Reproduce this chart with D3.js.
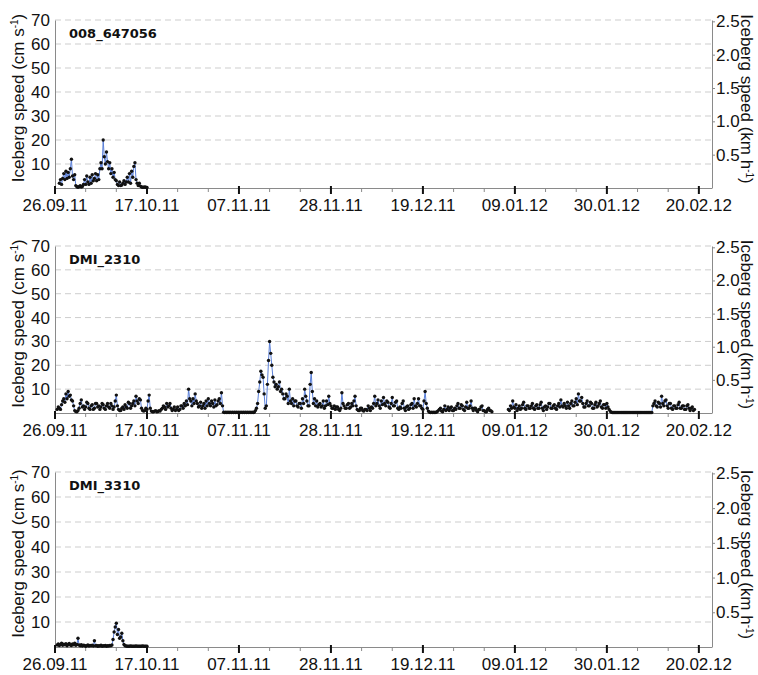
<!DOCTYPE html>
<html>
<head>
<meta charset="utf-8">
<script src="https://cdn.jsdelivr.net/npm/d3@7"></script>
<style>
  body { margin: 0; background: #fff; }
  svg { display: block; }
</style>
</head>
<body>
<svg id="chart" width="758" height="675"></svg>
<script>
// ---- data -------------------------------------------------------------
const buoyNames = ["008_647056", "DMI_2310", "DMI_3310"];
const dateLabels = ["26.09.11", "17.10.11", "07.11.11", "28.11.11", "19.12.11", "09.01.12", "30.01.12", "20.02.12"];
const axisStart = "26.09.11";
const axisEnd = "23.02.12";
const speedTicks = [10, 20, 30, 40, 50, 60, 70];      // cm s-1
const kmhTicks = [0.5, 1.0, 1.5, 2.0, 2.5];           // km h-1

// 008_647056: 6-hourly speeds (cm s-1) from 27.09.11 00 UTC
const speed008Start = "27.09.11 00";
const speed008Step = 6;
const speed008 = [2, 3.5, 1.5, 4, 6, 3.5, 7, 4, 6.5, 4.5, 8, 12, 5, 3.5, 5.5, 1, 0.5, 0.3, 0.5, 1,
  0.4, 0.6, 1.5, 3.5, 1.5, 5, 2.5, 1.5, 4.5, 2, 5.5, 3, 4, 6, 3, 5.5, 3.5, 8, 10.5, 8,
  20, 13, 10, 15, 11, 8, 10.5, 6, 8, 4.5, 6.5, 3.5, 3, 1.5, 1, 2.5, 1, 1.2, 2, 3,
  1.5, 2.5, 4.5, 2.5, 6, 2, 7, 4.5, 9, 10.5, 3.5, 2, 1, 2, 0.8, 0.4, 0.3, 0.3, 0.4, 0.3, 0.2];

// DMI_2310: 6-hourly speeds (cm s-1) from 26.09.11 12 UTC; null = no fix
const speed2310Start = "26.09.11 12";
const speed2310Step = 6;
const speed2310 = [
  1.5, 2.5, 2, 1.5, 3.5, 5, 6, 4.5, 8, 6, 9, 7, 7.5, 5.5, 5, 3, 1, 0.6, 0.5, 1,
  2, 4, 5.5, 2.5, 3, 1.5, 2.5, 4.5, 4, 2, 1.5, 3, 3.5, 1.5, 2, 4, 4, 2.5, 3, 1.5,
  2.5, 4, 3.5, 2, 1.5, 3, 4, 2.5, 2, 4, 3, 1.5, 2.5, 5, 7.5, 3, 1.5, 1, 1, 2,
  2.5, 1.5, 3.5, 2.5, 2, 4.5, 4, 2, 3, 4, 5, 3, 7, 5, 4, 6, 5.5, 2, 1, 0.8,
  1, 2, 1.5, 5, 7.5, 2, 0.8, 0.5, 0.5, 0.8, 1, 0.5, 0.6, 1, 0.8, 1.5, 2, 3, 2.5, 1.5,
  4, 2.5, 3, 4, 2, 1, 1.5, 2.5, 1, 1.5, 2.5, 1, 1.5, 3, 3, 2, 4, 3, 5, 3.5,
  10, 6, 5, 3, 6, 4, 8, 5, 4, 2.5, 3, 4.5, 2, 3, 4, 2, 5, 3, 6, 4,
  3, 5, 4, 2.5, 5.5, 3, 3.5, 5, 6, 4, 8.5, 3, 0.3, 0.2, 0.3, 0.2, 0.3, 0.2, 0.3, 0.2,
  0.3, 0.2, 0.3, 0.2, 0.3, 0.2, 0.3, 0.2, 0.3, 0.2, 0.3, 0.2, 0.3, 0.2, 0.3, 0.2, 0.3, 0.2, 0.3, 0.2,
  0.3, 1, 2, 4, 9, 13, 17.5, 16, 15, 8, 2, 3, 12, 22, 30, 25, 20, 15, 13, 11,
  12, 10, 11, 13, 9, 10, 8, 6, 6, 8, 7, 4, 10, 5, 4, 6, 3, 5, 5, 3,
  2.5, 4, 4, 2, 6, 4, 10, 7, 5, 3, 3, 12, 17, 9, 4, 6, 3, 5, 2.5, 3.5,
  4, 2.5, 3, 5, 2, 3, 5, 3.5, 7, 4, 3, 2, 2, 3, 1.5, 2.5, 2.5, 1.5, 1, 2,
  8.5, 4, 3, 2, 2, 3.5, 4, 2, 2.5, 4, 3, 5, 7, 3, 1.5, 1, 1, 2, 2, 1,
  0.8, 1.5, 1.5, 1, 3, 2, 1, 2.5, 2, 4, 7, 3, 4, 5.5, 3, 2, 5, 3.5, 6.5, 4,
  3, 5, 4.5, 2.5, 2, 4, 6.5, 3, 3, 4.5, 5, 2, 1.5, 2.5, 2, 4, 5, 2, 1, 2.5,
  3, 1.5, 2, 3.5, 4, 2, 6, 3, 2.5, 4, 6, 3, 3, 2, 1.5, 5, 9, 4, 2, 0.8,
  0.3, 0.2, 0.3, 0.2, 0.3, 0.2, 0.3, 0.5, 1, 1.5, 2, 0.8, 0.5, 1.5, 3, 1, 1.5, 2.5, 1, 2,
  2.5, 1, 1, 2, 1.5, 3, 4, 2, 2, 3.5, 3, 1.5, 1, 2.5, 4.5, 2, 2, 3, 5, 2,
  1, 2, 2, 1, 0.5, 1.5, 1.5, 2.5, 3, 1, 1, 0.5, 0.5, 1.5, 2, 1, 1, 0.5, null, null,
  null, null, null, null, null, null, null, null, null, null, null, null, 1.5, 1, 3, 2, 5, 2.5, 2, 3.5,
  1, 2, 3, 1.5, 2, 3.5, 4.5, 2, 1.5, 3, 3, 2, 2, 3, 4, 2, 1.5, 3, 3.5, 2,
  2, 3.5, 4.5, 2, 1, 2.5, 3, 1.5, 2.5, 4, 4, 2, 2, 3, 3.5, 2, 1.5, 3, 4, 2.5,
  5.5, 3, 2.5, 4, 3, 2, 4.5, 3, 2, 4, 5, 3, 3, 4.5, 6, 3.5, 8, 5, 5, 6.5,
  4, 2.5, 2.5, 4, 5, 3, 3, 4.5, 4, 2, 2, 3.5, 4.5, 2.5, 3, 4, 5, 2.5, 2, 3.5,
  3.5, 2, 4, 2.5, 1.5, 0.8, 0.3, 0.2, 0.2, 0.2, 0.2, 0.2, 0.2, 0.2, 0.2, 0.2, 0.2, 0.2, 0.2, 0.2,
  0.2, 0.2, 0.2, 0.2, 0.2, 0.2, 0.2, 0.2, 0.2, 0.2, 0.2, 0.2, 0.2, 0.2, 0.2, 0.2, 0.2, 0.2, 0.2, 0.2,
  0.2, 0.2, 0.2, 0.2, 3, 4, 5, 3, 2.5, 4.5, 4, 2.5, 7, 4, 3, 5, 5.5, 3, 2, 4,
  4, 2, 1.5, 3, 3, 2, 2, 3.5, 4.5, 2, 2, 3, 3, 1.5, 1.5, 3, 3.5, 2, 1, 2,
  2.5, 1, 1.5];

// DMI_3310: 6-hourly speeds (cm s-1) from 26.09.11 12 UTC
const speed3310Start = "26.09.11 12";
const speed3310Step = 6;
const speed3310 = [0.8, 1.2, 0.6, 1, 1.5, 0.7, 1.1, 0.9, 1.3, 0.5, 1, 1.4, 0.8, 0.6, 1.2, 0.9, 1.5, 0.7, 1,
  3.5,
  0.8, 0.5, 0.9, 0.4, 0.7, 0.6, 0.3, 0.5, 0.8, 0.4, 0.6, 0.5, 0.7, 0.4,
  2.5,
  0.5, 0.6, 0.3, 0.5, 0.4, 0.7, 0.3, 0.5, 0.4, 0.6, 0.3, 0.5, 0.4, 0.6, 0.5, 0.8,
  3, 6, 8, 9.5, 5, 7, 3.5, 4, 5.5, 2.5,
  1, 0.5, 0.4, 0.3, 0.3, 0.3, 0.4, 0.3, 0.3, 0.3, 0.3, 0.4, 0.3, 0.3, 0.3, 0.3, 0.3, 0.4, 0.3, 0.3, 0.3, 0.3];

// ---- drawing ----------------------------------------------------------
const FONT = "'Liberation Sans', Arial, Helvetica, sans-serif";
const CM_TO_KMH = 0.036;
const parseDay = d3.utcParse("%d.%m.%y");
const parseHour = d3.utcParse("%d.%m.%y %H");

const svg = d3.select("#chart");
const plotLeft = 55, plotRight = 712;

const x = d3.scaleUtc()
  .domain([parseDay(axisStart), parseDay(axisEnd)])
  .range([plotLeft, plotRight]);

const majorDates = dateLabels.map(parseDay);
const minorDates = d3.range(0, 151, 7).map(k => d3.utcDay.offset(parseDay(axisStart), k))
  .filter(d => x(d) <= plotRight);

function toSeries(values, start, stepHours) {
  const t0 = parseHour(start);
  return values.map((v, i) => ({ t: d3.utcHour.offset(t0, i * stepHours), v }));
}

const panels = [
  { name: buoyNames[0], data: toSeries(speed008, speed008Start, speed008Step), top: 20, bottom: 188 },
  { name: buoyNames[1], data: toSeries(speed2310, speed2310Start, speed2310Step), top: 246, bottom: 413 },
  { name: buoyNames[2], data: toSeries(speed3310, speed3310Start, speed3310Step), top: 472, bottom: 647 }
];

panels.forEach(p => {
  const g = svg.append("g");
  const y = d3.scaleLinear().domain([0, 70]).range([p.bottom, p.top]);
  const yKmh = d3.scaleLinear().domain([0, 70 * CM_TO_KMH]).range([p.bottom, p.top]);

  // dashed grid
  g.append("g").selectAll("line").data(speedTicks).join("line")
    .attr("x1", plotLeft).attr("x2", plotRight)
    .attr("y1", d => y(d)).attr("y2", d => y(d))
    .attr("stroke", "#cdcdcd").attr("stroke-width", 1)
    .attr("stroke-dasharray", "6,4");

  // left axis (cm s-1)
  const la = g.append("g").attr("transform", `translate(${plotLeft},0)`)
    .call(d3.axisLeft(y).tickValues(speedTicks).tickSize(0).tickPadding(5));
  la.select(".domain").attr("stroke", "#8a8a8a");
  la.selectAll("text").attr("font-family", FONT).attr("font-size", 17).attr("fill", "#111");

  // right axis (km h-1)
  const ra = g.append("g").attr("transform", `translate(${plotRight},0)`)
    .call(d3.axisRight(yKmh).tickValues(kmhTicks).tickFormat(d3.format(".1f"))
      .tickSize(3).tickSizeOuter(0).tickPadding(1));
  ra.select(".domain").attr("stroke", "#8a8a8a");
  ra.selectAll(".tick line").attr("stroke", "#8a8a8a");
  ra.selectAll("text").attr("font-family", FONT).attr("font-size", 17).attr("fill", "#111");

  // time axis
  g.append("line").attr("x1", plotLeft).attr("x2", plotRight)
    .attr("y1", p.bottom + 0.5).attr("y2", p.bottom + 0.5).attr("stroke", "#8a8a8a");
  g.append("g").selectAll("line").data(minorDates).join("line")
    .attr("x1", d => x(d)).attr("x2", d => x(d))
    .attr("y1", p.bottom).attr("y2", p.bottom + 4)
    .attr("stroke", "#8a8a8a").attr("stroke-width", 1);
  g.append("g").selectAll("line").data(majorDates).join("line")
    .attr("x1", d => x(d)).attr("x2", d => x(d))
    .attr("y1", p.bottom - 2).attr("y2", p.bottom + 6)
    .attr("stroke", "#111").attr("stroke-width", 2);
  g.append("g").selectAll("text").data(majorDates).join("text")
    .attr("x", d => x(d)).attr("y", p.bottom + 23)
    .attr("text-anchor", "middle")
    .attr("font-family", FONT).attr("font-size", 17).attr("fill", "#111")
    .text((d, i) => dateLabels[i]);

  // axis titles
  const mid = (p.top + p.bottom) / 2;
  const lt = g.append("text")
    .attr("transform", `translate(24,${mid - 6}) rotate(-90)`)
    .attr("text-anchor", "middle")
    .attr("font-family", FONT).attr("font-size", 17).attr("fill", "#111");
  lt.append("tspan").text("Iceberg speed (cm s");
  lt.append("tspan").attr("dy", -6).attr("font-size", 10).text("-1");
  lt.append("tspan").attr("dy", 6).text(")");

  const rt = g.append("text")
    .attr("transform", `translate(741,${mid - 5}) rotate(90)`)
    .attr("text-anchor", "middle")
    .attr("font-family", FONT).attr("font-size", 17).attr("fill", "#111");
  rt.append("tspan").text("Iceberg speed (km h");
  rt.append("tspan").attr("dy", -5).attr("font-size", 10).text("-1");
  rt.append("tspan").attr("dy", 5).text(")");

  // buoy name
  g.append("text")
    .attr("x", 69).attr("y", p.top + 18)
    .attr("font-family", "'DejaVu Sans', Verdana, sans-serif")
    .attr("font-weight", "bold").attr("font-size", 13).attr("fill", "#111")
    .text(p.name);

  // speed series: thin blue line with black markers
  const line = d3.line()
    .defined(d => d.v != null)
    .x(d => x(d.t)).y(d => y(d.v));
  g.append("path").datum(p.data)
    .attr("fill", "none").attr("stroke", "#5a7fd8").attr("stroke-width", 1)
    .attr("d", line);
  g.append("g").selectAll("circle").data(p.data.filter(d => d.v != null)).join("circle")
    .attr("cx", d => x(d.t)).attr("cy", d => y(d.v))
    .attr("r", 1.7).attr("fill", "#111");
});
</script>
</body>
</html>
